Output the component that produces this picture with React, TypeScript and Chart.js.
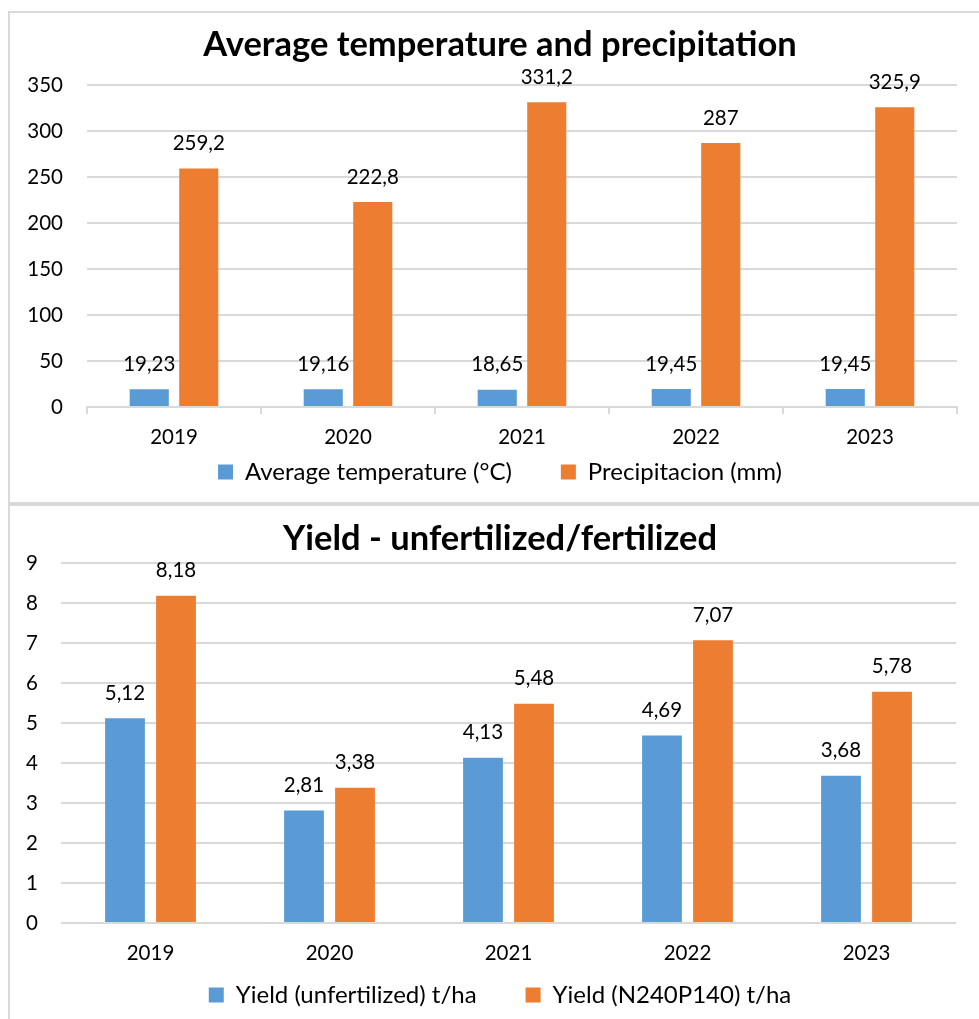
import React, { useEffect, useRef } from "react";
import { Chart, registerables } from "chart.js";

Chart.register(...registerables);

const years = ["2019", "2020", "2021", "2022", "2023"];
const avgTemperature = [19.23, 19.16, 18.65, 19.45, 19.45];
const precipitation = [259.2, 222.8, 331.2, 287, 325.9];
const yieldUnfertilized = [5.12, 2.81, 4.13, 4.69, 3.68];
const yieldFertilized = [8.18, 3.38, 5.48, 7.07, 5.78];

const BLUE = "#5B9BD5";
const ORANGE = "#ED7D31";
const GRID = "#d9d9d9";
const FONT = "Lato";

const valueLabels = {
  id: "valueLabels",
  afterDatasetsDraw(chart: any, _args: any, opts: any) {
    const ctx = chart.ctx;
    ctx.save();
    ctx.font = `${opts.size}px ${FONT}`;
    ctx.fillStyle = "#000";
    ctx.textAlign = "center";
    ctx.textBaseline = "middle";
    chart.data.datasets.forEach((ds: any, i: number) => {
      const meta = chart.getDatasetMeta(i);
      meta.data.forEach((el: any, j: number) => {
        const v = ds.data[j];
        ctx.fillText(String(v).replace(".", ","), el.x, el.y - opts.offset);
      });
    });
    ctx.restore();
  },
};

function Panel(props: { make: () => any; width: number; height: number }) {
  const ref = useRef<HTMLCanvasElement | null>(null);
  useEffect(() => {
    if (!ref.current) return;
    const chart = new Chart(ref.current, props.make());
    return () => chart.destroy();
  }, []);
  return (
    <canvas
      ref={ref}
      width={props.width}
      height={props.height}
      style={{ display: "block", width: props.width, height: props.height }}
    />
  );
}

const tickFont = { family: FONT, size: 20.5, lineHeight: 1.2 };
const legendFont = { family: FONT, size: 24 };
const titleFont = { family: FONT, size: 34.5, weight: "bold", lineHeight: 1.2 };

function spacer(width: number) {
  return {
    position: "right",
    display: true,
    grid: { display: false, drawTicks: false },
    border: { display: false },
    ticks: { display: false },
    afterFit: (s: any) => { s.width = width; },
  };
}

function topConfig() {
  return {
    type: "bar",
    data: {
      labels: years,
      datasets: [
        { label: "Average temperature (°C)", data: avgTemperature, backgroundColor: BLUE, borderWidth: 0 },
        { label: "Precipitacion (mm)", data: precipitation, backgroundColor: ORANGE, borderWidth: 0 },
      ],
    },
    plugins: [valueLabels],
    options: {
      responsive: false,
      animation: false,
      devicePixelRatio: 1,
      datasets: { bar: { categoryPercentage: 0.569, barPercentage: 0.79 } },
      layout: { padding: { left: 0, right: 0, top: 0, bottom: 8 } },
      plugins: {
        title: {
          display: true,
          text: "Average temperature and precipitation",
          color: "#000",
          font: titleFont,
          padding: { top: 11.3, bottom: 19.3 },
        },
        legend: {
          position: "bottom",
          labels: { boxWidth: 15, boxHeight: 15, padding: 49, color: "#000", font: legendFont },
        },
        tooltip: { enabled: false },
        valueLabels: { size: 20.5, offset: 25 },
      },
      scales: {
        x: {
          grid: { display: true, drawOnChartArea: false, drawTicks: true, tickLength: 7, color: GRID, lineWidth: 2, offset: true },
          border: { display: true, color: GRID, width: 2 },
          ticks: { mirror: true, padding: -42.3, color: "#000", font: tickFont },
          afterFit: (s: any) => { s.height = 4; },
        },
        y: {
          min: 0,
          max: 350,
          ticks: { stepSize: 50, padding: 24, color: "#000", font: tickFont },
          grid: { color: GRID, lineWidth: 2, drawTicks: false },
          border: { display: false },
          afterFit: (s: any) => { s.width = 77; },
        },
        pad: spacer(33),
      },
    },
  };
}

function bottomConfig() {
  return {
    type: "bar",
    data: {
      labels: years,
      datasets: [
        { label: "Yield (unfertilized) t/ha", data: yieldUnfertilized, backgroundColor: BLUE, borderWidth: 0 },
        { label: "Yield (N240P140) t/ha", data: yieldFertilized, backgroundColor: ORANGE, borderWidth: 0 },
      ],
    },
    plugins: [valueLabels],
    options: {
      responsive: false,
      animation: false,
      devicePixelRatio: 1,
      datasets: { bar: { categoryPercentage: 0.57, barPercentage: 0.78 } },
      layout: { padding: { left: 0, right: 0, top: 0, bottom: 2 } },
      plugins: {
        title: {
          display: true,
          text: "Yield - unfertilized/fertilized",
          color: "#000",
          font: titleFont,
          padding: { top: 11.8, bottom: 3.8 },
        },
        legend: {
          position: "bottom",
          labels: { boxWidth: 15, boxHeight: 15, padding: 49, color: "#000", font: legendFont },
        },
        tooltip: { enabled: false },
        valueLabels: { size: 20.5, offset: 25 },
      },
      scales: {
        x: {
          grid: { display: false, drawTicks: false },
          border: { display: false },
          ticks: { mirror: true, padding: -42.3, color: "#000", font: tickFont },
          afterFit: (s: any) => { s.height = 11; },
        },
        y: {
          min: 0,
          max: 9,
          ticks: { stepSize: 1, padding: 23, color: "#000", font: tickFont },
          grid: { color: GRID, lineWidth: 2, drawTicks: false },
          border: { display: false },
          afterFit: (s: any) => { s.width = 51; },
        },
        pad: spacer(34),
      },
    },
  };
}

export default function App() {
  return (
    <div
      style={{
        position: "absolute",
        left: 0,
        top: 0,
        width: 979,
        height: 1019,
        overflow: "hidden",
        background: "#fff",
      }}
    >
      <div
        style={{
          position: "absolute",
          left: 8,
          top: 11,
          width: 1000,
          height: 489,
          border: `2px solid ${GRID}`,
        }}
      >
        <Panel make={topConfig} width={980} height={489} />
      </div>
      <div
        style={{
          position: "absolute",
          left: 8,
          top: 504,
          width: 1000,
          height: 520,
          border: `2px solid ${GRID}`,
        }}
      >
        <Panel make={bottomConfig} width={980} height={513} />
      </div>
    </div>
  );
}
